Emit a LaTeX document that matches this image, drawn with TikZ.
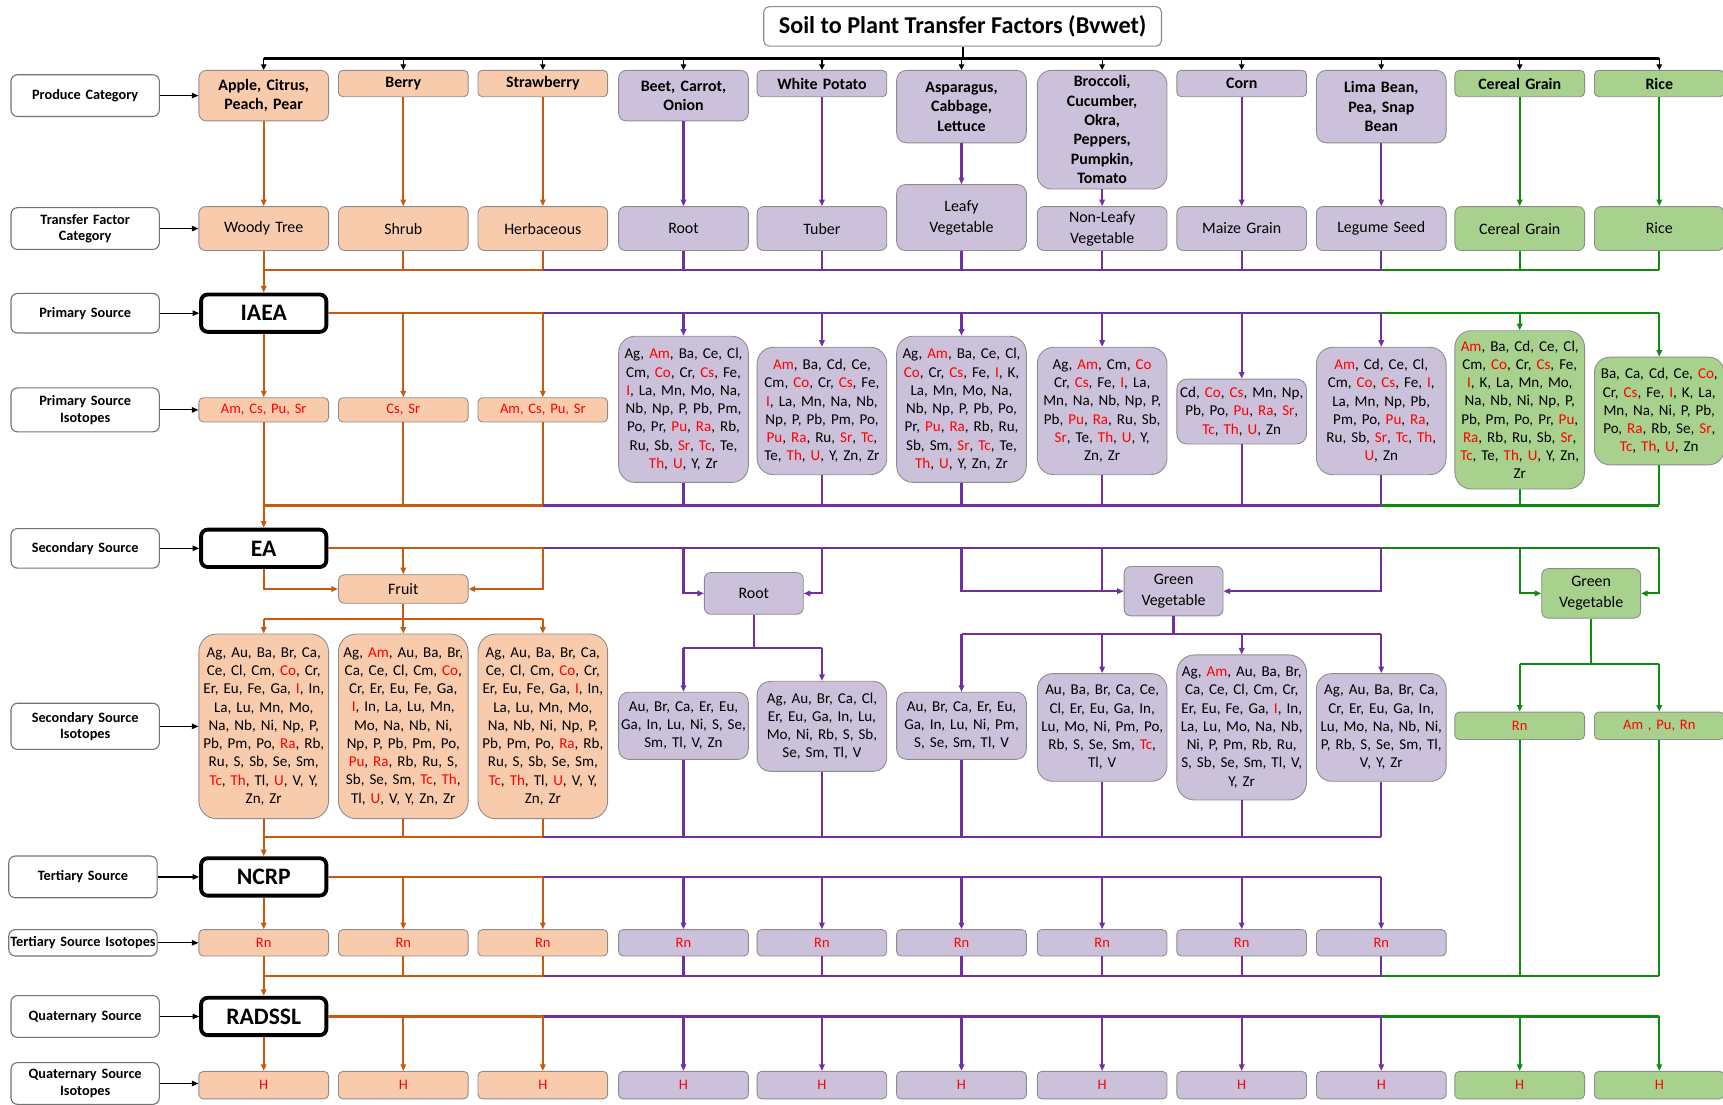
\documentclass[tikz,border=0pt]{standalone}
\usepackage{fontspec}
\setmainfont{Carlito}
\usetikzlibrary{arrows.meta,calc}
\definecolor{ofill}{HTML}{F8CBAD}
\definecolor{pfill}{HTML}{CCC1DA}
\definecolor{gfill}{HTML}{A9D18E}
\definecolor{ocol}{HTML}{C55A11}
\definecolor{pcol}{HTML}{7030A0}
\definecolor{gcol}{HTML}{108A10}
\definecolor{bgray}{HTML}{8C8C8C}
\newcommand\rd[1]{\textcolor{red}{#1}}
\tikzset{
  cbox/.style={draw=bgray, line width=0.8pt, inner sep=0pt, align=center, minimum width=118pt, text width=116pt, rounded corners=#1},
  cbox/.default=5pt,
  ob/.style={cbox=#1, fill=ofill}, ob/.default=5pt,
  pb/.style={cbox=#1, fill=pfill}, pb/.default=5pt,
  gb/.style={cbox=#1, fill=gfill}, gb/.default=5pt,
  hdf/.style={font=\fontsize{14.5}{17.6}\selectfont\bfseries},
  tff/.style={font=\fontsize{14.5}{19}\selectfont},
  isf/.style={font=\fontsize{13.7}{16.6}\selectfont},
  smf/.style={font=\fontsize{13.2}{15}\selectfont, text=red},
  src/.style={draw=black, line width=3.5pt, rounded corners=6pt, fill=white, minimum width=114pt, minimum height=34pt, inner sep=0pt, font=\fontsize{21.5}{24}\selectfont\bfseries},
  lab/.style={draw=black!55, line width=1pt, rounded corners=6pt, fill=white, minimum width=135pt, text width=135pt, align=center, inner sep=0pt, font=\fontsize{13}{15}\selectfont\bfseries},
  ol/.style={draw=ocol, line width=2pt},
  pl/.style={draw=pcol, line width=2pt},
  gl/.style={draw=gcol, line width=2pt},
  oa/.style={ol, -{Triangle[length=6pt,width=5pt]}},
  pa/.style={pl, -{Triangle[length=6pt,width=5pt]}},
  ga/.style={gl, -{Triangle[length=6pt,width=5pt]}},
  ka/.style={draw=black, line width=1.1pt, -{Triangle[length=6pt,width=5pt]}},
}
\begin{document}
\begin{tikzpicture}[x=1pt, y=-1pt]
\useasboundingbox (0,0) rectangle (1568,1005);
% ---------- title ----------
\node[draw=bgray, line width=1pt, rounded corners=5pt, fill=white, minimum width=362pt, minimum height=36pt, inner sep=0pt, font=\fontsize{22}{24}\selectfont\bfseries] (title) at (876,24) {Soil to Plant Transfer Factors (Bvwet)};
% ---------- produce row ----------
\node[ob=7pt, hdf, minimum height=46pt] (P1) at (240,87) {Apple, Citrus,\\Peach, Pear};
\node[ob=4pt, hdf, minimum height=24pt] (P2) at (367,76) {Berry};
\node[ob=4pt, hdf, minimum height=24pt] (P3) at (494,76) {Strawberry};
\node[pb=7pt, hdf, minimum height=46pt] (P4) at (622,87) {Beet, Carrot,\\Onion};
\node[pb=4pt, hdf, minimum height=24pt] (P5) at (748,76) {White Potato};
\node[pb=9pt, hdf, minimum height=66pt] (P6) at (875,97) {Asparagus,\\Cabbage,\\Lettuce};
\node[pb=13pt, hdf, minimum height=108pt] (P7) at (1003,118) {Broccoli,\\Cucumber,\\Okra,\\Peppers,\\Pumpkin,\\Tomato};
\node[pb=4pt, hdf, minimum height=24pt] (P8) at (1130,76) {Corn};
\node[pb=9pt, hdf, minimum height=66pt] (P9) at (1257,97) {Lima Bean,\\Pea, Snap\\Bean};
\node[gb=4pt, hdf, minimum height=24pt] (P10) at (1383,76) {Cereal Grain};
\node[gb=4pt, hdf, minimum height=24pt] (P11) at (1510,76) {Rice};
% ---------- transfer factor row ----------
\node[ob=6pt, tff, minimum height=40pt] (T1) at (240,208) {Woody Tree};
\node[ob=6pt, tff, minimum height=40pt] (T2) at (367,208) {Shrub};
\node[ob=6pt, tff, minimum height=40pt] (T3) at (494,208) {Herbaceous};
\node[pb=6pt, tff, minimum height=40pt] (T4) at (622,208) {Root};
\node[pb=6pt, tff, minimum height=40pt] (T5) at (748,208) {Tuber};
\node[pb=8pt, tff, minimum height=60pt] (T6) at (875,198) {Leafy\\Vegetable};
\node[pb=6pt, tff, minimum height=40pt] (T7) at (1003,208) {Non-Leafy\\Vegetable};
\node[pb=6pt, tff, minimum height=40pt] (T8) at (1130,208) {Maize Grain};
\node[pb=6pt, tff, minimum height=40pt] (T9) at (1257,208) {Legume Seed};
\node[gb=6pt, tff, minimum height=40pt] (T10) at (1383,208) {Cereal Grain};
\node[gb=6pt, tff, minimum height=40pt] (T11) at (1510,208) {Rice};
% ---------- sources ----------
\node[src] (iaea) at (240,285) {IAEA};
\node[src] (ea) at (240,499) {EA};
\node[src] (ncrp) at (240,798) {NCRP};
\node[src] (radssl) at (240,925) {RADSSL};
% ---------- primary isotopes ----------
\node[ob=4pt, smf, minimum height=22pt] (p1) at (240,373) {Am, Cs, Pu, Sr};
\node[ob=4pt, smf, minimum height=22pt] (p2) at (367,373) {Cs, Sr};
\node[ob=4pt, smf, minimum height=22pt] (p3) at (494,373) {Am, Cs, Pu, Sr};
\node[pb=15pt, isf, minimum height=133pt] (p4) at (622,372.5) {Ag, \rd{Am}, Ba, Ce, Cl,\\Cm, \rd{Co}, Cr, \rd{Cs}, Fe,\\\rd{I}, La, Mn, Mo, Na,\\Nb, Np, P, Pb, Pm,\\Po, Pr, \rd{Pu}, \rd{Ra}, Rb,\\Ru, Sb, \rd{Sr}, \rd{Tc}, Te,\\\rd{Th}, \rd{U}, Y, Zr};
\node[pb=15pt, isf, minimum height=116pt] (p5) at (748,374) {\rd{Am}, Ba, Cd, Ce,\\Cm, \rd{Co}, Cr, \rd{Cs}, Fe,\\\rd{I}, La, Mn, Na, Nb,\\Np, P, Pb, Pm, Po,\\\rd{Pu}, \rd{Ra}, Ru, \rd{Sr}, \rd{Tc},\\Te, \rd{Th}, \rd{U}, Y, Zn, Zr};
\node[pb=15pt, isf, minimum height=133pt] (p6) at (875,372.5) {Ag, \rd{Am}, Ba, Ce, Cl,\\\rd{Co}, Cr, \rd{Cs}, Fe, \rd{I}, K,\\La, Mn, Mo, Na,\\Nb, Np, P, Pb, Po,\\Pr, \rd{Pu}, \rd{Ra}, Rb, Ru,\\Sb, Sm, \rd{Sr}, \rd{Tc}, Te,\\\rd{Th}, \rd{U}, Y, Zn, Zr};
\node[pb=15pt, isf, minimum height=116pt] (p7) at (1003,374) {Ag, \rd{Am}, Cm, \rd{Co}\\Cr, \rd{Cs}, Fe, \rd{I}, La,\\Mn, Na, Nb, Np, P,\\Pb, \rd{Pu}, \rd{Ra}, Ru, Sb,\\\rd{Sr}, Te, \rd{Th}, \rd{U}, Y,\\Zn, Zr};
\node[pb=9pt, isf, minimum height=59pt] (p8) at (1130,374.5) {Cd, \rd{Co}, \rd{Cs}, Mn, Np,\\Pb, Po, \rd{Pu}, \rd{Ra}, \rd{Sr},\\\rd{Tc}, \rd{Th}, \rd{U}, Zn};
\node[pb=15pt, isf, minimum height=116pt] (p9) at (1257,374) {\rd{Am}, Cd, Ce, Cl,\\Cm, \rd{Co}, \rd{Cs}, Fe, \rd{I},\\La, Mn, Np, Pb,\\Pm, Po, \rd{Pu}, \rd{Ra},\\Ru, Sb, \rd{Sr}, \rd{Tc}, \rd{Th},\\\rd{U}, Zn};
\node[gb=15pt, isf, minimum height=144pt] (p10) at (1383,373) {\rd{Am}, Ba, Cd, Ce, Cl,\\Cm, \rd{Co}, Cr, \rd{Cs}, Fe,\\\rd{I}, K, La, Mn, Mo,\\Na, Nb, Ni, Np, P,\\Pb, Pm, Po, Pr, \rd{Pu},\\\rd{Ra}, Rb, Ru, Sb, \rd{Sr},\\\rd{Tc}, Te, \rd{Th}, \rd{U}, Y, Zn,\\Zr};
\node[gb=14pt, isf, minimum height=98pt] (p11) at (1510,374) {Ba, Ca, Cd, Ce, \rd{Co},\\Cr, \rd{Cs}, Fe, \rd{I}, K, La,\\Mn, Na, Ni, P, Pb,\\Po, \rd{Ra}, Rb, Se, \rd{Sr},\\\rd{Tc}, \rd{Th}, \rd{U}, Zn};
% ---------- secondary ----------
\node[ob=5pt, tff, minimum height=26pt] (fruit) at (367,536) {Fruit};
\node[pb=6pt, tff, minimum height=38pt, minimum width=90pt, text width=88pt] (rootS) at (686,540) {Root};
\node[pb=6pt, tff, minimum height=45pt, minimum width=90pt, text width=88pt] (gvP) at (1068,538) {Green\\Vegetable};
\node[gb=6pt, tff, minimum height=45pt, minimum width=90pt, text width=88pt] (gvG) at (1448,540) {Green\\Vegetable};
\node[ob=16pt, isf, minimum height=168pt] (s1) at (240,661) {Ag, Au, Ba, Br, Ca,\\Ce, Cl, Cm, \rd{Co}, Cr,\\Er, Eu, Fe, Ga, \rd{I}, In,\\La, Lu, Mn, Mo,\\Na, Nb, Ni, Np, P,\\Pb, Pm, Po, \rd{Ra}, Rb,\\Ru, S, Sb, Se, Sm,\\\rd{Tc}, \rd{Th}, Tl, \rd{U}, V, Y,\\Zn, Zr};
\node[ob=16pt, isf, minimum height=168pt] (s2) at (367,661) {Ag, \rd{Am}, Au, Ba, Br,\\Ca, Ce, Cl, Cm, \rd{Co},\\Cr, Er, Eu, Fe, Ga,\\\rd{I}, In, La, Lu, Mn,\\Mo, Na, Nb, Ni,\\Np, P, Pb, Pm, Po,\\\rd{Pu}, \rd{Ra}, Rb, Ru, S,\\Sb, Se, Sm, \rd{Tc}, \rd{Th},\\Tl, \rd{U}, V, Y, Zn, Zr};
\node[ob=16pt, isf, minimum height=168pt] (s3) at (494,661) {Ag, Au, Ba, Br, Ca,\\Ce, Cl, Cm, \rd{Co}, Cr,\\Er, Eu, Fe, Ga, \rd{I}, In,\\La, Lu, Mn, Mo,\\Na, Nb, Ni, Np, P,\\Pb, Pm, Po, \rd{Ra}, Rb,\\Ru, S, Sb, Se, Sm,\\\rd{Tc}, \rd{Th}, Tl, \rd{U}, V, Y,\\Zn, Zr};
\node[pb=9pt, isf, minimum height=61pt] (s4) at (622,660.5) {Au, Br, Ca, Er, Eu,\\Ga, In, Lu, Ni, S, Se,\\Sm, Tl, V, Zn};
\node[pb=12pt, isf, minimum height=82pt] (s5) at (748,661) {Ag, Au, Br, Ca, Cl,\\Er, Eu, Ga, In, Lu,\\Mo, Ni, Rb, S, Sb,\\Se, Sm, Tl, V};
\node[pb=9pt, isf, minimum height=61pt] (s6) at (875,660.5) {Au, Br, Ca, Er, Eu,\\Ga, In, Lu, Ni, Pm,\\S, Se, Sm, Tl, V};
\node[pb=14pt, isf, minimum height=98pt] (s7) at (1003,662) {Au, Ba, Br, Ca, Ce,\\Cl, Er, Eu, Ga, In,\\Lu, Mo, Ni, Pm, Po,\\Rb, S, Se, Sm, \rd{Tc},\\Tl, V};
\node[pb=16pt, isf, minimum height=132pt] (s8) at (1130,662) {Ag, \rd{Am}, Au, Ba, Br,\\Ca, Ce, Cl, Cm, Cr,\\Er, Eu, Fe, Ga, \rd{I}, In,\\La, Lu, Mo, Na, Nb,\\Ni, P, Pm, Rb, Ru,\\S, Sb, Se, Sm, Tl, V,\\Y, Zr};
\node[pb=14pt, isf, minimum height=98pt] (s9) at (1257,662) {Ag, Au, Ba, Br, Ca,\\Cr, Er, Eu, Ga, In,\\Lu, Mo, Na, Nb, Ni,\\P, Rb, S, Se, Sm, Tl,\\V, Y, Zr};
\node[gb=4pt, smf, minimum height=25pt] (s10) at (1383,660.5) {Rn};
\node[gb=4pt, smf, minimum height=25pt] (s11) at (1510,660.5) {Am , Pu, Rn};
% ---------- tertiary ----------
\foreach \i/\x in {1/240,2/367,3/494} \node[ob=4pt, smf, minimum height=24pt] (t\i) at (\x,858) {Rn};
\foreach \i/\x in {4/622,5/748,6/875,7/1003,8/1130,9/1257} \node[pb=4pt, smf, minimum height=24pt] (t\i) at (\x,858) {Rn};
% ---------- quaternary ----------
\foreach \i/\x in {1/240,2/367,3/494} \node[ob=4pt, smf, minimum height=25pt] (q\i) at (\x,987.5) {H};
\foreach \i/\x in {4/622,5/748,6/875,7/1003,8/1130,9/1257} \node[pb=4pt, smf, minimum height=25pt] (q\i) at (\x,987.5) {H};
\foreach \i/\x in {10/1383,11/1510} \node[gb=4pt, smf, minimum height=25pt] (q\i) at (\x,987.5) {H};
% ---------- left labels ----------
\node[lab, minimum height=38pt] (l1) at (77.5,87) {Produce Category};
\node[lab, minimum height=38pt] (l2) at (77.5,208) {Transfer Factor\\Category};
\node[lab, minimum height=36pt] (l3) at (77.5,285) {Primary Source};
\node[lab, minimum height=40pt] (l4) at (77.5,373) {Primary Source\\Isotopes};
\node[lab, minimum height=36pt] (l5) at (77.5,499) {Secondary Source};
\node[lab, minimum height=42pt] (l6) at (77.5,661) {Secondary Source\\Isotopes};
\node[lab, minimum height=38pt] (l7) at (75.5,798) {Tertiary Source};
\node[lab, minimum height=24pt] (l8) at (75.5,858) {Tertiary Source Isotopes};
\node[lab, minimum height=38pt] (l9) at (77.5,925) {Quaternary Source};
\node[lab, minimum height=38pt] (l10) at (77.5,986) {Quaternary Source\\Isotopes};
\foreach \a/\b in {l1/P1,l2/T1,l3/iaea,l4/p1,l5/ea,l6/s1,l7/ncrp,l8/t1,l9/radssl,l10/q1}
  \draw[ka] (\a.east) -- (\a.east -| \b.west);
% ---------- bus coordinates ----------
\coordinate (tb) at (0,53);
\coordinate (b1) at (0,246);
\coordinate (b2) at (0,460);
\coordinate (b3) at (0,762);
\coordinate (b4) at (0,888);
\coordinate (fb) at (0,563);
\coordinate (rb) at (0,590);
\coordinate (vb) at (0,577);
\coordinate (gbus) at (0,604);
% ---------- top ----------
\draw[black, line width=2.6pt] (P1|-tb) -- (P11|-tb);
\draw[black, line width=2pt] (title.south) -- (title|-tb);
\foreach \i in {1,...,11} \draw[black, line width=1pt, -{Triangle[length=5pt,width=5pt]}] (P\i|-tb) -- (P\i);
% produce -> transfer
\foreach \i in {1,2,3} \draw[oa] (P\i) -- (T\i);
\foreach \i in {4,...,9} \draw[pa] (P\i) -- (T\i);
\foreach \i in {10,11} \draw[ga] (P\i) -- (T\i);
% bus 1
\foreach \i in {1,2,3} \draw[ol] (T\i.south) -- (T\i|-b1);
\foreach \i in {4,...,9} \draw[pl] (T\i.south) -- (T\i|-b1);
\foreach \i in {10,11} \draw[gl] (T\i.south) -- (T\i|-b1);
\draw[pl] (T3|-b1) -- (T9|-b1);
\draw[gl] (T9|-b1) -- (T11|-b1);
\draw[ol] (T1|-b1) -- (T3|-b1);
\draw[oa] (T1|-b1) -- (iaea);
% IAEA
\draw[pl] (p3|-iaea) -- (p9|-iaea);
\draw[gl] (p9|-iaea) -- (p11|-iaea);
\draw[ol] (iaea.east) -- (p3|-iaea);
\draw[oa] (iaea) -- (p1);
\foreach \i in {2,3} \draw[oa] (p\i|-iaea) -- (p\i);
\foreach \i in {4,...,9} \draw[pa] (p\i|-iaea) -- (p\i);
\foreach \i in {10,11} \draw[ga] (p\i|-iaea) -- (p\i);
% bus 2
\foreach \i in {1,2,3} \draw[ol] (p\i.south) -- (p\i|-b2);
\foreach \i in {4,...,9} \draw[pl] (p\i.south) -- (p\i|-b2);
\foreach \i in {10,11} \draw[gl] (p\i.south) -- (p\i|-b2);
\draw[pl] (p3|-b2) -- (p9|-b2);
\draw[gl] (p9|-b2) -- (p11|-b2);
\draw[ol] (p1|-b2) -- (p3|-b2);
\draw[oa] (p1|-b2) -- (ea);
% EA
\draw[pl] (s3|-ea) -- (s9|-ea);
\draw[gl] (s9|-ea) -- (s11|-ea);
\draw[ol] (ea.east) -- (s3|-ea);
\draw[oa] (ea.south) |- (fruit.west);
\draw[oa] (s2|-ea) -- (fruit);
\draw[oa] (s3|-ea) |- (fruit.east);
\draw[ol] (fruit.south) -- (fruit|-fb);
\draw[ol] (s1|-fb) -- (s3|-fb);
\foreach \i in {1,2,3} \draw[oa] (s\i|-fb) -- (s\i);
% root
\draw[pa] (s4|-ea) |- (rootS.west);
\draw[pa] (s5|-ea) |- (rootS.east);
\draw[pl] (rootS.south) -- (rootS|-rb);
\draw[pl] (s4|-rb) -- (s5|-rb);
\foreach \i in {4,5} \draw[pa] (s\i|-rb) -- (s\i);
% green vegetable (purple)
\draw[pa] (s6|-ea) |- (gvP.west);
\draw[pl] (s7|-ea) -- (s7|-gvP);
\draw[pa] (s9|-ea) |- (gvP.east);
\draw[pl] (gvP.south) -- (gvP|-vb);
\draw[pl] (s6|-vb) -- (s9|-vb);
\foreach \i in {6,...,9} \draw[pa] (s\i|-vb) -- (s\i);
% green vegetable (green)
\draw[ga] (s10|-ea) |- (gvG.west);
\draw[ga] (s11|-ea) |- (gvG.east);
\draw[gl] (gvG.south) -- (gvG|-gbus);
\draw[gl] (s10|-gbus) -- (s11|-gbus);
\foreach \i in {10,11} \draw[ga] (s\i|-gbus) -- (s\i);
% bus 3
\foreach \i in {1,2,3} \draw[ol] (s\i.south) -- (s\i|-b3);
\foreach \i in {4,...,9} \draw[pl] (s\i.south) -- (s\i|-b3);
\draw[pl] (s3|-b3) -- (s9|-b3);
\draw[ol] (s1|-b3) -- (s3|-b3);
\draw[oa] (s1|-b3) -- (ncrp);
% NCRP
\draw[pl] (t3|-ncrp) -- (t9|-ncrp);
\draw[ol] (ncrp.east) -- (t3|-ncrp);
\draw[oa] (ncrp) -- (t1);
\foreach \i in {2,3} \draw[oa] (t\i|-ncrp) -- (t\i);
\foreach \i in {4,...,9} \draw[pa] (t\i|-ncrp) -- (t\i);
% bus 4
\foreach \i in {1,2,3} \draw[ol] (t\i.south) -- (t\i|-b4);
\foreach \i in {4,...,9} \draw[pl] (t\i.south) -- (t\i|-b4);
\foreach \i in {10,11} \draw[gl] (s\i.south) -- (s\i|-b4);
\draw[pl] (t3|-b4) -- (t9|-b4);
\draw[gl] (t9|-b4) -- (s11|-b4);
\draw[ol] (t1|-b4) -- (t3|-b4);
\draw[oa] (t1|-b4) -- (radssl);
% RADSSL
\draw[pl] (q3|-radssl) -- (q9|-radssl);
\draw[gl] (q9|-radssl) -- (q11|-radssl);
\draw[ol] (radssl.east) -- (q3|-radssl);
\draw[oa] (radssl) -- (q1);
\foreach \i in {2,3} \draw[oa] (q\i|-radssl) -- (q\i);
\foreach \i in {4,...,9} \draw[pa] (q\i|-radssl) -- (q\i);
\foreach \i in {10,11} \draw[ga] (q\i|-radssl) -- (q\i);
\end{tikzpicture}
\end{document}
